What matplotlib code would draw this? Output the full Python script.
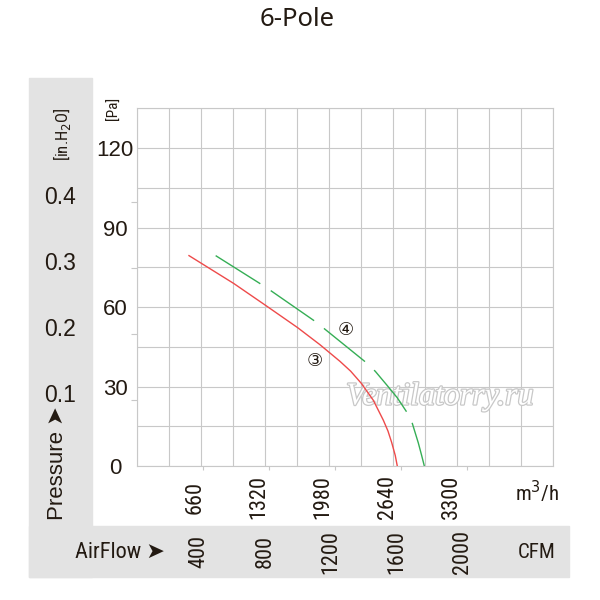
import matplotlib
matplotlib.use('Agg')
from matplotlib import pyplot as plt
from matplotlib import transforms, font_manager
from matplotlib.patches import Rectangle
import matplotlib.patheffects as pe

# curve 3 (red, solid): airflow in m3/h, static pressure in Pa
red_flow = [533, 994, 1324, 1654, 1883, 2090, 2200, 2310, 2434, 2537, 2585, 2623, 2660, 2681]
red_pa = [79.4, 68.9, 60.6, 52.2, 45.8, 39.5, 35.8, 31.2, 24.8, 17.3, 13.2, 8.9, 4.0, 0]

# curve 4 (green, dashed)
green_flow = [808, 1255, 1372, 1833, 1936, 2365, 2455, 2572, 2680, 2778, 2830, 2898, 2930, 2960]
green_pa = [79.4, 69.1, 66.3, 54.6, 51.6, 38.9, 35.7, 30.6, 25.8, 20.4, 16.8, 8.7, 4.3, 0]

pa_ticks = [0, 30, 60, 90, 120]
inh2o_ticks = [0.1, 0.2, 0.3, 0.4]
m3h_ticks = [660, 1320, 1980, 2640, 3300]
cfm_ticks = [400, 800, 1200, 1600, 2000]

PA_PER_INH2O = 249.089
M3H_PER_CFM = 1.699

TXT = '#231a12'
GRID = '#c8c8c8'
PANEL = '#e3e3e3'
ARIAL = ['Liberation Sans', 'DejaVu Sans']


def first_font(names):
    '''return the first installed family of names, or None'''
    for n in names:
        try:
            font_manager.findfont(n, fallback_to_default=False)
            return n
        except ValueError:
            pass
    return None


narrow = first_font(['Liberation Sans Narrow', 'Roboto Condensed',
                     'Open Sans Condensed', 'Arial Narrow'])
if narrow:
    NARROW = [narrow, 'DejaVu Sans']
    tick_fs, unit_fs, airflow_fs = 16, 15, 16
else:
    NARROW = ARIAL
    tick_fs, unit_fs, airflow_fs = 15, 12.5, 14


def fx(px):
    # pixel x of the 600 px picture -> figure fraction
    return px / 600.0


def fy(py):
    # pixel y (from top) -> figure fraction
    return 1 - py / 600.0


fig = plt.figure(figsize=(6, 6), dpi=100)

# grey L-shaped band behind the outer labels
fig.patches.append(Rectangle((fx(29), fy(577)), fx(92) - fx(29), fy(78) - fy(577),
                             transform=fig.transFigure, color=PANEL, zorder=0))
fig.patches.append(Rectangle((fx(29), fy(577)), fx(569) - fx(29), fy(526) - fy(577),
                             transform=fig.transFigure, color=PANEL, zorder=0))

ax = fig.add_axes([fx(137.3), fy(466), fx(553.3) - fx(137.3), fy(108.3) - fy(466)])
ax.set_xlim(0, 4290)
ax.set_ylim(0, 135)
ax.set_axisbelow(True)

# grid every 330 m3/h and every 15 Pa
ax.set_xticks(range(0, 4291, 330), minor=True)
ax.set_yticks(range(0, 136, 15), minor=True)
ax.grid(which='minor', color=GRID, linewidth=0.8)
ax.yaxis.grid(True, which='major', color=GRID, linewidth=0.8)
ax.tick_params(which='minor', length=0)

# small tick marks below the axis at the CFM values
ax.set_xticks([c * M3H_PER_CFM for c in cfm_ticks])
ax.set_xticklabels([])
ax.tick_params(axis='x', which='major', length=3, color=GRID, width=0.8)

# Pa labels
ax.set_yticks(pa_ticks)
ax.set_yticklabels([str(v) for v in pa_ticks])
ax.tick_params(axis='y', which='major', length=0, pad=16, labelsize=16,
               labelcolor=TXT)
plt.setp(ax.get_yticklabels(), ha='center', family=ARIAL)

for s in ax.spines.values():
    s.set_color(GRID)
    s.set_linewidth(0.8)

# in.H2O tick marks on the left of the axis
sec = ax.secondary_yaxis(0, functions=(lambda p: p / PA_PER_INH2O,
                                       lambda h: h * PA_PER_INH2O))
sec.set_yticks(inh2o_ticks)
sec.set_yticklabels([])
sec.tick_params(length=4, color=GRID, width=0.8)
sec.spines['left'].set_visible(False)

# curves
ax.plot(red_flow, red_pa, color='#ee4a4a', lw=1.0, zorder=3)
ax.plot(green_flow, green_pa, color='#35ae55', lw=1.0, dashes=(38, 9), zorder=3)

circ = ['DejaVu Serif', 'DejaVu Sans', 'Noto Sans CJK JP']
ax.text(1827, 39.6, '③', fontsize=13, color=TXT, ha='center', va='center',
        family=circ, zorder=4)
ax.text(2152, 51.4, '④', fontsize=13, color=TXT, ha='center', va='center',
        family=circ, zorder=4)

# watermark
ax.text(0.728, 0.193, 'Ventilatorry.ru', transform=ax.transAxes,
        fontsize=23, family='Liberation Serif', style='italic',
        color='white', ha='center', va='center', zorder=2,
        path_effects=[pe.withStroke(linewidth=1.8, foreground='#c8c8c8')])

# flow labels, rotated, under the axis
xfig = transforms.blended_transform_factory(ax.transData, fig.transFigure)
xfig_off = transforms.offset_copy(xfig, fig=fig, x=-6, y=0, units='dots')
for v in m3h_ticks:
    fig.text(v, fy(497), str(v), transform=xfig_off, rotation=90,
             ha='center', va='center', fontsize=tick_fs, family=NARROW, color=TXT)
cfm_off = transforms.offset_copy(xfig, fig=fig, x=-4, y=0, units='dots')
for v in cfm_ticks:
    fig.text(v * M3H_PER_CFM, fy(552), str(v), transform=cfm_off, rotation=90,
             ha='center', va='center', fontsize=tick_fs, family=NARROW, color=TXT)

fig.text(fx(537), fy(492), 'm$^3$/h', ha='center', va='center', fontsize=unit_fs,
         family=NARROW, color=TXT)
fig.text(fx(537), fy(553), 'CFM', ha='center', va='center', fontsize=unit_fs,
         family=NARROW, color=TXT)
fig.text(fx(75), fy(552), 'AirFlow ➤', ha='left', va='center', fontsize=airflow_fs,
         family=NARROW, color=TXT)

# in.H2O labels in the grey band
yfig = transforms.blended_transform_factory(fig.transFigure, ax.transData)
yfig_off = transforms.offset_copy(yfig, fig=fig, x=0, y=5, units='dots')
for v in inh2o_ticks:
    fig.text(fx(60), v * PA_PER_INH2O, str(v), transform=yfig_off,
             ha='center', va='center', fontsize=16.5, family=ARIAL, color=TXT)

fig.text(fx(62), fy(134), '[in.H$_2$O]', rotation=90, ha='center', va='center',
         fontsize=12, family=NARROW, color=TXT)
fig.text(fx(114), fy(108), '[Pa]', rotation=90, ha='center', va='center',
         fontsize=11, family=NARROW, color=TXT)
fig.text(fx(57), fy(463), 'Pressure ➤', rotation=90, ha='center', va='center',
         fontsize=16, family=ARIAL, color=TXT)

fig.text(fx(297), fy(20), '6-Pole', ha='center', va='center', fontsize=18.5,
         family='Noto Sans', color=TXT)

fig.savefig('out.png', dpi=100)
